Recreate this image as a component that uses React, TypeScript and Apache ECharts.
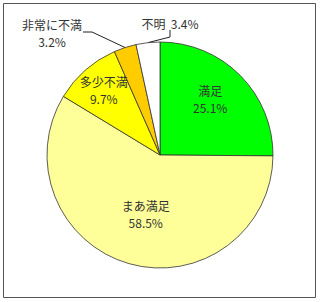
import React, { useEffect, useRef } from "react";
import * as echarts from "echarts";

const categories = ["満足", "まあ満足", "多少不満", "非常に不満", "不明"];
const values = [25.1, 58.5, 9.7, 3.2, 3.4];
const colors = ["#00ff00", "#ffff99", "#ffff00", "#ffcc00", "#ffffff"];

const FONT = '"Noto Sans CJK JP", "Noto Sans", sans-serif';

export default function App() {
  const ref = useRef<HTMLDivElement>(null);
  useEffect(() => {
    if (!ref.current) return;
    const chart = echarts.init(ref.current, undefined, { renderer: "svg" });
    const data = categories.map((name, i) => {
      const outside = i >= 3;
      return {
        name,
        value: values[i],
        itemStyle: { color: colors[i] },
        label: {
          position: outside ? "outside" : "inside",
          formatter: i === 4 ? "{b}  {c}%" : "{b}\n{c}%",
        },
        labelLine: { show: outside },
      };
    });
    chart.setOption({
      animation: false,
      backgroundColor: "#ffffff",
      graphic: [
        {
          type: "rect",
          shape: { x: 3.5, y: 3.5, width: 312, height: 294 },
          style: { fill: "none", stroke: "#555", lineWidth: 1 },
          silent: true,
        },
      ],
      series: [
        {
          type: "pie",
          center: [160, 155],
          radius: 113,
          startAngle: 90,
          clockwise: true,
          avoidLabelOverlap: false,
          itemStyle: { borderColor: "#333", borderWidth: 0.8 },
          label: {
            color: "#333",
            fontSize: 12,
            fontFamily: FONT,
            lineHeight: 17,
            align: "center",
          },
          labelLine: {
            lineStyle: { color: "#222", width: 1 },
            smooth: false,
          },
          emphasis: { disabled: true },
          labelLayout: (params: any) => {
            const i = params.dataIndex;
            const p0 = params.labelLinePoints ? params.labelLinePoints[0] : null;
            if (i === 0) return { dx: 8, dy: -14 };
            if (i === 1) return { dx: 2, dy: 2 };
            if (i === 2) return { dx: -17, dy: -20 };
            if (i === 3)
              return {
                x: 52,
                y: 33,
                align: "center",
                verticalAlign: "middle",
                labelLinePoints: p0 ? [p0, [92, 32], [83, 32]] : undefined,
              };
            if (i === 4)
              return {
                x: 170,
                y: 23,
                align: "center",
                verticalAlign: "middle",
                labelLinePoints: p0 ? [p0, [170, 37], [170, 30]] : undefined,
              };
            return {};
          },
          data,
        },
      ],
    });
    return () => chart.dispose();
  }, []);
  return (
    <div
      ref={ref}
      style={{ position: "fixed", left: 0, top: 0, width: 320, height: 302 }}
    />
  );
}
